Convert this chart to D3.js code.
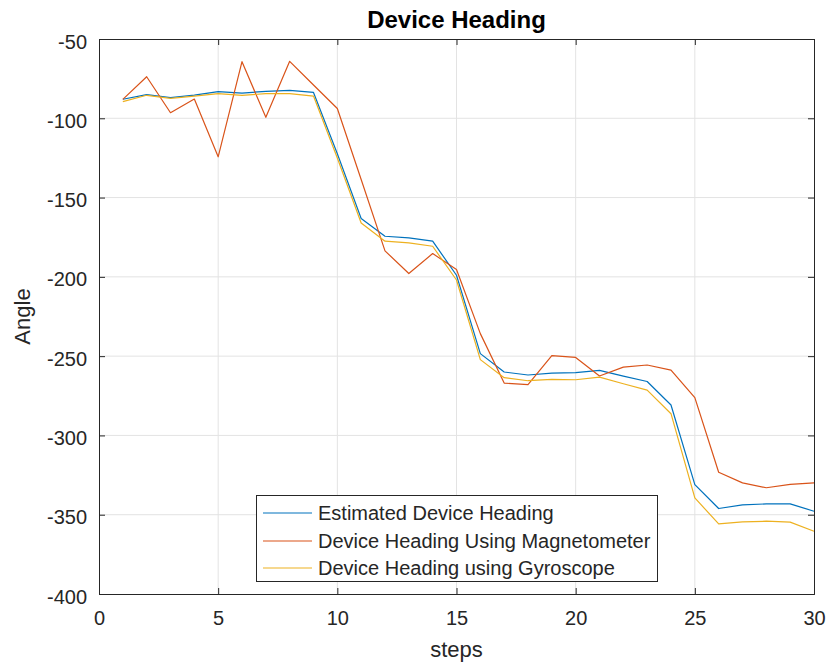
<!DOCTYPE html>
<html>
<head>
<meta charset="utf-8">
<script src="https://cdn.jsdelivr.net/npm/d3@7"></script>
<style>
  html, body { margin: 0; padding: 0; background: #ffffff; }
  svg { display: block; font-family: "Liberation Sans", Arial, Helvetica, sans-serif; }
</style>
</head>
<body>
<svg id="chart" width="828" height="667"></svg>
<script>
// Step indices
const steps = d3.range(1, 31);

// Heading estimates (degrees) for each step
const estimated = [-88, -85.1, -87, -85.4, -83.2, -84.1, -83, -82.4, -83.7, -122.4,
  -163.2, -174.4, -175.4, -177.5, -199, -248.4, -260, -261.9, -260.7, -260.4,
  -259, -262.6, -266, -280.8, -331, -346.1, -343.8, -343.2, -343.2, -347.8];
const magnetometer = [-88.1, -73.8, -96.5, -87.9, -124.3, -64.3, -99.4, -64.1, -79, -93.8,
  -138.6, -183.6, -197.9, -185.3, -195.4, -235.8, -267, -268, -249.7, -250.8,
  -262.5, -256.9, -255.6, -258.8, -276.2, -323.2, -329.9, -333, -330.9, -329.9];
const gyroscope = [-89.5, -85.5, -87.5, -86, -84.5, -85.5, -84.5, -84.5, -86, -125,
  -166, -177.5, -178.6, -180.7, -202, -252.2, -263.6, -265.5, -264.6, -264.9,
  -263.2, -267.4, -271.4, -286.3, -339.4, -355.8, -354.5, -354.1, -354.7, -360.4];

const seriesNames = ["Estimated Device Heading", "Device Heading Using Magnetometer", "Device Heading using Gyroscope"];
const seriesColors = ["#0072BD", "#D95319", "#EDB120"];
const xTicks = [0, 5, 10, 15, 20, 25, 30];
const yTicks = [-50, -100, -150, -200, -250, -300, -350, -400];

const svg = d3.select("#chart");
const plotLeft = 99, plotRight = 814, plotTop = 39, plotBottom = 594;

const x = d3.scaleLinear().domain([0, 30]).range([plotLeft, plotRight]);
const y = d3.scaleLinear().domain([-400, -50]).range([plotBottom, plotTop]);

const axisColor = "#262626";
const gridColor = "#e3e3e3";
const fontStack = "'Liberation Sans', Arial, sans-serif";

// Grid
const grid = svg.append("g");
grid.selectAll("line.vx").data(xTicks.slice(1, -1)).enter().append("line")
  .attr("x1", d => x(d)).attr("x2", d => x(d)).attr("y1", plotTop).attr("y2", plotBottom)
  .attr("stroke", gridColor).attr("stroke-width", 1);
grid.selectAll("line.hy").data(yTicks.slice(1, -1)).enter().append("line")
  .attr("y1", d => y(d)).attr("y2", d => y(d)).attr("x1", plotLeft).attr("x2", plotRight)
  .attr("stroke", gridColor).attr("stroke-width", 1);

// Axes (ticks pointing inward, mirrored on top/right)
const tickLen = 6;
const plainNum = d => String(d);
const xAxis = d3.axisBottom(x).tickValues(xTicks).tickSize(-tickLen).tickPadding(17).tickFormat(plainNum);
const yAxis = d3.axisLeft(y).tickValues(yTicks).tickSize(-tickLen).tickPadding(12).tickFormat(plainNum);

const gx = svg.append("g").attr("transform", `translate(0,${plotBottom})`).call(xAxis);
const gy = svg.append("g").attr("transform", `translate(${plotLeft},0)`).call(yAxis);
const gxTop = svg.append("g").attr("transform", `translate(0,${plotTop})`)
  .call(d3.axisTop(x).tickValues(xTicks).tickSize(-tickLen).tickFormat(""));
const gyRight = svg.append("g").attr("transform", `translate(${plotRight},0)`)
  .call(d3.axisRight(y).tickValues(yTicks).tickSize(-tickLen).tickFormat(""));

[gx, gy, gxTop, gyRight].forEach(g => {
  g.select(".domain").attr("stroke", axisColor).attr("stroke-width", 1);
  g.selectAll(".tick line").attr("stroke", axisColor).attr("stroke-width", 1);
  g.selectAll(".tick text").attr("fill", axisColor).attr("font-size", 20)
    .attr("font-family", fontStack);
});
gx.selectAll(".tick text").attr("dy", "0.71em");
gy.selectAll(".tick text").attr("dy", "0.45em");

// Lines
const line = d3.line().x((d, i) => x(steps[i])).y(d => y(d));
const allSeries = [estimated, magnetometer, gyroscope];
svg.append("g").selectAll("path").data(allSeries).enter().append("path")
  .attr("d", d => line(d))
  .attr("fill", "none")
  .attr("stroke", (d, i) => seriesColors[i])
  .attr("stroke-width", 1.2)
  .attr("stroke-linejoin", "round");

// Title and labels
svg.append("text").attr("x", (plotLeft + plotRight) / 2).attr("y", 28)
  .attr("text-anchor", "middle").attr("font-size", 24).attr("font-weight", "bold")
  .attr("fill", "#000").text("Device Heading");
svg.append("text").attr("x", (plotLeft + plotRight) / 2).attr("y", 657)
  .attr("text-anchor", "middle").attr("font-size", 22).attr("fill", axisColor).text("steps");
svg.append("text").attr("transform", `translate(30,${(plotTop + plotBottom) / 2}) rotate(-90)`)
  .attr("text-anchor", "middle").attr("font-size", 22).attr("fill", axisColor).text("Angle");

// Legend
const legend = svg.append("g");
legend.append("rect").attr("x", 256.5).attr("y", 495.5).attr("width", 401).attr("height", 86)
  .attr("fill", "#fff").attr("stroke", axisColor).attr("stroke-width", 1);
const rowY = [513, 541, 568];
seriesNames.forEach((name, i) => {
  legend.append("line").attr("x1", 263).attr("x2", 312).attr("y1", rowY[i]).attr("y2", rowY[i])
    .attr("stroke", seriesColors[i]).attr("stroke-width", 1.2);
  legend.append("text").attr("x", 318).attr("y", rowY[i]).attr("dy", "0.36em")
    .attr("font-size", 20).attr("fill", axisColor).text(name);
});
</script>
</body>
</html>
